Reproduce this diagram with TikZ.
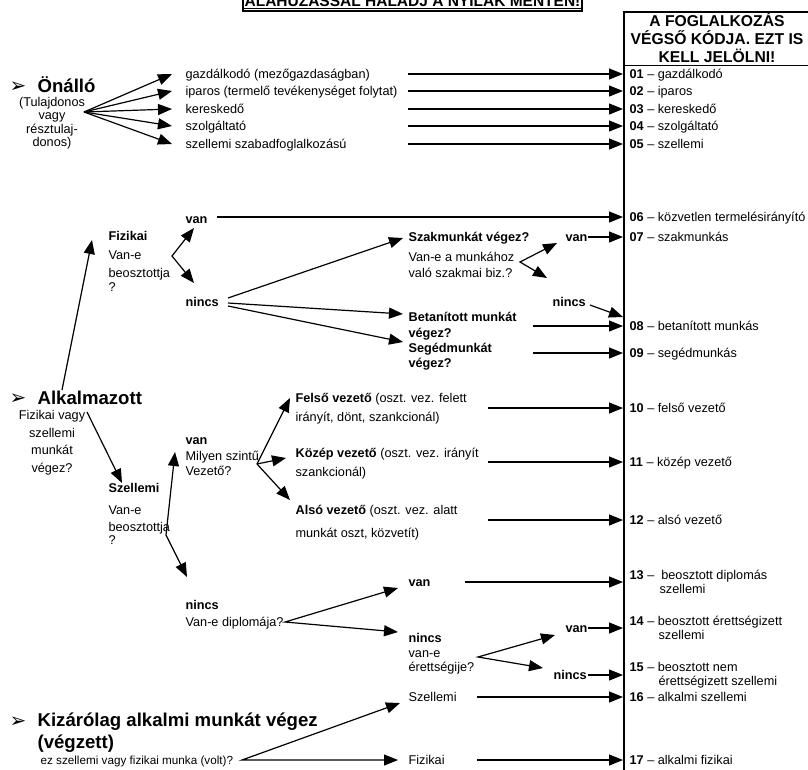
\documentclass[tikz,border=0pt]{standalone}
\usepackage{fontspec}
\setmainfont{Liberation Sans}
\newfontfamily\dingfont{DejaVu Sans}
\usetikzlibrary{positioning,arrows.meta}
\def\colx{624}
\def\tipx{623}
\tikzstyle{txt}=[anchor=base west,inner sep=0pt,text height=10pt,text depth=2pt,font=\fontsize{12.7}{15}\selectfont]
\tikzstyle{btxt}=[txt,font=\fontsize{12.7}{15}\selectfont\bfseries]
\tikzstyle{ctr}=[txt,anchor=base]
\tikzstyle{opt}=[txt,inner xsep=13pt]
\tikzstyle{big}=[txt,font=\fontsize{18.6}{22}\selectfont\bfseries]
\tikzstyle{bullet}=[txt,font=\dingfont\fontsize{20}{22}\selectfont]
\tikzstyle{hdr}=[anchor=base,inner sep=0pt,font=\fontsize{15.7}{18}\selectfont\bfseries]
\tikzstyle{code}=[txt,inner xsep=6pt]
\tikzstyle{codetwo}=[anchor=west,inner xsep=6pt,inner ysep=0pt,align=left,font=\fontsize{12.7}{13.5}\selectfont]
\newcommand{\newCode}[3]{\node[code] (#1) at (\tipx,#2) {#3};}
\newcommand{\newArrow}[3]{\draw[->,#3] (#1) -- (#2);}

\begin{document}
\begin{tikzpicture}[x=1pt,y=-1pt,line width=1.2pt,
      >={Triangle[length=14pt,width=11pt]}
      ]
      \useasboundingbox (0,0) rectangle (808,769);

      % banner and code column
      \node[hdr,font=\fontsize{15.5}{18}\selectfont\bfseries] (banner) at (412.5,6.5) {ALÁHÚZÁSSAL HALADJ A NYILAK MENTÉN!};
      \draw[line width=0.9pt] ([yshift=-2pt]banner.base west) -- ([yshift=-2pt]banner.base east);
      \draw[line width=1.3pt] (243,-20) rectangle (582,11);
      \draw[line width=1.3pt] (815,12) -- (\colx,12) -- (\colx,775);
      \draw[line width=1.3pt] (\colx,65.5) -- (815,65.5);
      \node[hdr] (hd1) at (717,26.5) {A FOGLALKOZÁS};
      \node[hdr] (hd2) at (717,44.5) {VÉGSŐ KÓDJA. EZT IS};
      \node[hdr] (hd3) at (717,62) {KELL JELÖLNI!};

      \newCode{k01}{78}{\textbf{01} – gazdálkodó}
      \newCode{k02}{95}{\textbf{02} – iparos}
      \newCode{k03}{113}{\textbf{03} – kereskedő}
      \newCode{k04}{130}{\textbf{04} – szolgáltató}
      \newCode{k05}{148}{\textbf{05} – szellemi}
      \newCode{k06}{221}{\textbf{06} – közvetlen termelésirányító}
      \newCode{k07}{241}{\textbf{07} – szakmunkás}
      \newCode{k08}{330}{\textbf{08} – betanított munkás}
      \newCode{k09}{357}{\textbf{09} – segédmunkás}
      \newCode{k10}{412}{\textbf{10} – felső vezető}
      \newCode{k11}{466}{\textbf{11} – közép vezető}
      \newCode{k12}{524}{\textbf{12} – alsó vezető}
      \node[codetwo] (k13) at (\tipx,582) {\textbf{13} –\ \ beosztott diplomás\\\hspace*{30pt}szellemi};
      \node[codetwo] (k14) at (\tipx,628) {\textbf{14} – beosztott érettségizett\\\hspace*{29pt}szellemi};
      \node[codetwo] (k15) at (\tipx,675) {\textbf{15} – beosztott nem\\\hspace*{29pt}érettségizett szellemi};
      \newCode{k16}{701}{\textbf{16} – alkalmi szellemi}
      \newCode{k17}{764}{\textbf{17} – alkalmi fizikai}

      % Onallo
      \node[bullet] (b1) at (9,92) {➢};
      \node[big] (onallo) at (37,92) {Önálló};
      \node[ctr] (own1) at (52,106) {(Tulajdonos};
      \node[ctr] (own2) at ([yshift=-13.5pt]own1.base) {vagy};
      \node[ctr] (own3) at ([yshift=-13.5pt]own2.base) {résztulaj-};
      \node[ctr] (own4) at ([yshift=-13.5pt]own3.base) {donos)};
      \coordinate (fk1) at (84,112);
      \node[opt] (o1) at (172,78) {gazdálkodó (mezőgazdaságban)};
      \node[opt] (o2) at (172,95) {iparos (termelő tevékenységet folytat)};
      \node[opt] (o3) at (172,113) {kereskedő};
      \node[opt] (o4) at (172,130) {szolgáltató};
      \node[opt] (o5) at (172,148) {szellemi szabadfoglalkozású};
      \newArrow{fk1}{o1.west}{}
      \newArrow{fk1}{o2.west}{}
      \newArrow{fk1}{o3.west}{}
      \newArrow{fk1}{o4.west}{}
      \newArrow{fk1}{o5.west}{}
      \coordinate (s01) at (408,74);
      \coordinate (s02) at (408,91);
      \coordinate (s03) at (408,109);
      \coordinate (s04) at (408,126);
      \coordinate (s05) at (408,144);
      \newArrow{s01}{k01.west}{}
      \newArrow{s02}{k02.west}{}
      \newArrow{s03}{k03.west}{}
      \newArrow{s04}{k04.west}{}
      \newArrow{s05}{k05.west}{}

      % Fizikai
      \coordinate (alkTail) at (62,390);
      \coordinate (fizTip) at (92,240);
      \newArrow{alkTail}{fizTip}{}
      \node[btxt] (fiz) at (108,240) {Fizikai};
      \node[txt] (fiz2) at ([yshift=-19pt]fiz.base west) {Van-e};
      \node[txt] (fiz3) at ([yshift=-18pt]fiz2.base west) {beosztottja};
      \node[txt] (fiz4) at ([yshift=-14pt]fiz3.base west) {?};
      \node[btxt] (fvan) at (185,223) {van};
      \node[btxt] (fnincs) at (185,306) {nincs};
      \coordinate (fk2) at (172,256);
      \coordinate (fvTip) at (194,228);
      \coordinate (fnTip) at (194,283);
      \draw[<->] (fvTip) -- (fk2) -- (fnTip);
      \coordinate (s06) at (217,217);
      \newArrow{s06}{k06.west}{}
      \node[btxt] (szak) at (408,241) {Szakmunkát végez?};
      \node[txt] (szak2) at ([yshift=-20pt]szak.base west) {Van-e a munkához};
      \node[txt] (szak3) at ([yshift=-16pt]szak2.base west) {való szakmai biz.?};
      \node[btxt] (betan) at (408,321) {Betanított munkát};
      \node[btxt] (betan2) at ([yshift=-16pt]betan.base west) {végez?};
      \node[btxt] (seged) at (408,352) {Segédmunkát};
      \node[btxt] (seged2) at ([yshift=-15pt]seged.base west) {végez?};
      \coordinate (fn1) at (228,298);
      \coordinate (fn2) at (228,303);
      \coordinate (fn3) at (228,306);
      \coordinate (szTip) at (403,238);
      \coordinate (btTip) at (403,314);
      \coordinate (sgTip) at (403,342);
      \newArrow{fn1}{szTip}{}
      \newArrow{fn2}{btTip}{}
      \newArrow{fn3}{sgTip}{}
      \coordinate (fk3) at (520,262);
      \coordinate (svTip) at (557,243);
      \coordinate (snTip) at (547,278);
      \draw[<->] (svTip) -- (fk3) -- (snTip);
      \node[btxt] (svan) at (565,241) {van};
      \node[btxt] (snincs) at (552,306) {nincs};
      \coordinate (s07) at (588,237);
      \newArrow{s07}{k07.west}{}
      \coordinate (s07b) at (590,305);
      \coordinate (s07bTip) at (623,317);
      \newArrow{s07b}{s07bTip}{}
      \coordinate (s08) at (533,326);
      \coordinate (s09) at (533,353);
      \newArrow{s08}{k08.west}{}
      \newArrow{s09}{k09.west}{}

      % Alkalmazott
      \node[bullet] (b2) at (9,404.5) {➢};
      \node[big] (alk) at (37,404.5) {Alkalmazott};
      \node[ctr] (alk1) at (52,419) {Fizikai vagy};
      \node[ctr] (alk2) at ([yshift=-18pt]alk1.base) {szellemi};
      \node[ctr] (alk3) at ([yshift=-17pt]alk2.base) {munkát};
      \node[ctr] (alk4) at ([yshift=-18pt]alk3.base) {végez?};
      \coordinate (alkFork) at (87,412);
      \coordinate (szTip2) at (122,483);
      \newArrow{alkFork}{szTip2}{}
      \node[btxt] (szel) at (108,492) {Szellemi};
      \node[txt] (szel2) at ([yshift=-22pt]szel.base west) {Van-e};
      \node[txt] (szel3) at ([yshift=-17pt]szel2.base west) {beosztottja};
      \node[txt] (szel4) at ([yshift=-13pt]szel3.base west) {?};
      \coordinate (fk4) at (166,535);
      \coordinate (vvTip) at (175,452);
      \coordinate (vnTip) at (187,577);
      \draw[<->] (vvTip) -- (fk4) -- (vnTip);
      \node[btxt] (vvan) at (185,444) {van};
      \node[txt] (vvan2) at ([yshift=-16pt]vvan.base west) {Milyen szintű};
      \node[txt] (vvan3) at ([yshift=-15pt]vvan2.base west) {Vezető?};
      \coordinate (fk5) at (257,464);
      \coordinate (feTip) at (290,398);
      \coordinate (koTip) at (286,458);
      \coordinate (alTip) at (290,500);
      \newArrow{fk5}{feTip}{}
      \newArrow{fk5}{koTip}{}
      \newArrow{fk5}{alTip}{}
      \node[txt] (felso) at (295,402) {\textbf{Felső vezető} (oszt. vez. felett};
      \node[txt] (felso2) at ([yshift=-19pt]felso.base west) {irányít, dönt, szankcionál)};
      \node[txt] (kozep) at (295,457) {\textbf{Közép vezető} (oszt. vez. irányít};
      \node[txt] (kozep2) at ([yshift=-19pt]kozep.base west) {szankcionál)};
      \node[txt] (also) at (295,514) {\textbf{Alsó vezető} (oszt. vez. alatt};
      \node[txt] (also2) at ([yshift=-23pt]also.base west) {munkát oszt, közvetít)};
      \coordinate (s10) at (488,408);
      \coordinate (s11) at (488,462);
      \coordinate (s12) at (488,520);
      \newArrow{s10}{k10.west}{}
      \newArrow{s11}{k11.west}{}
      \newArrow{s12}{k12.west}{}

      % nincs beosztott
      \node[btxt] (dnincs) at (185,609) {nincs};
      \node[txt] (dnincs2) at ([yshift=-17pt]dnincs.base west) {Van-e diplomája?};
      \coordinate (fk6) at (285,622);
      \coordinate (dvTip) at (398,588);
      \coordinate (dnTip) at (398,632);
      \draw[<->] (dvTip) -- (fk6) -- (dnTip);
      \node[btxt] (dvan) at (408,586) {van};
      \coordinate (s13) at (465,582);
      \newArrow{s13}{k13.west}{}
      \node[btxt] (enincs) at (408,642) {nincs};
      \node[txt] (enincs2) at ([yshift=-15pt]enincs.base west) {van-e};
      \node[txt] (enincs3) at ([yshift=-14pt]enincs2.base west) {érettségije?};
      \coordinate (fk7) at (478,657);
      \coordinate (evTip) at (555,635);
      \coordinate (enTip) at (543,668);
      \draw[<->] (evTip) -- (fk7) -- (enTip);
      \node[btxt] (evan) at (565,632) {van};
      \node[btxt] (en2) at (553,679) {nincs};
      \coordinate (s14) at (588,628);
      \coordinate (s15) at (588,675);
      \newArrow{s14}{k14.west}{}
      \newArrow{s15}{k15.west}{}

      % alkalmi munka
      \node[bullet] (b3) at (9,727) {➢};
      \node[big] (kiz) at (37,726.5) {Kizárólag alkalmi munkát végez};
      \node[big] (kiz2) at ([yshift=-22pt]kiz.base west) {(végzett)};
      \node[txt,font=\fontsize{11.7}{14}\selectfont] (kiz3) at (40,764) {ez szellemi vagy fizikai munka (volt)?};
      \coordinate (fk8) at (242,760);
      \coordinate (asTip) at (400,703);
      \coordinate (afTip) at (398,760);
      \draw[<->] (asTip) -- (fk8) -- (afTip);
      \node[txt] (aszel) at (408,701) {Szellemi};
      \node[txt] (afiz) at (408,764) {Fizikai};
      \coordinate (s16) at (477,697);
      \coordinate (s17) at (477,760);
      \newArrow{s16}{k16.west}{}
      \newArrow{s17}{k17.west}{}
\end{tikzpicture}
\end{document}
